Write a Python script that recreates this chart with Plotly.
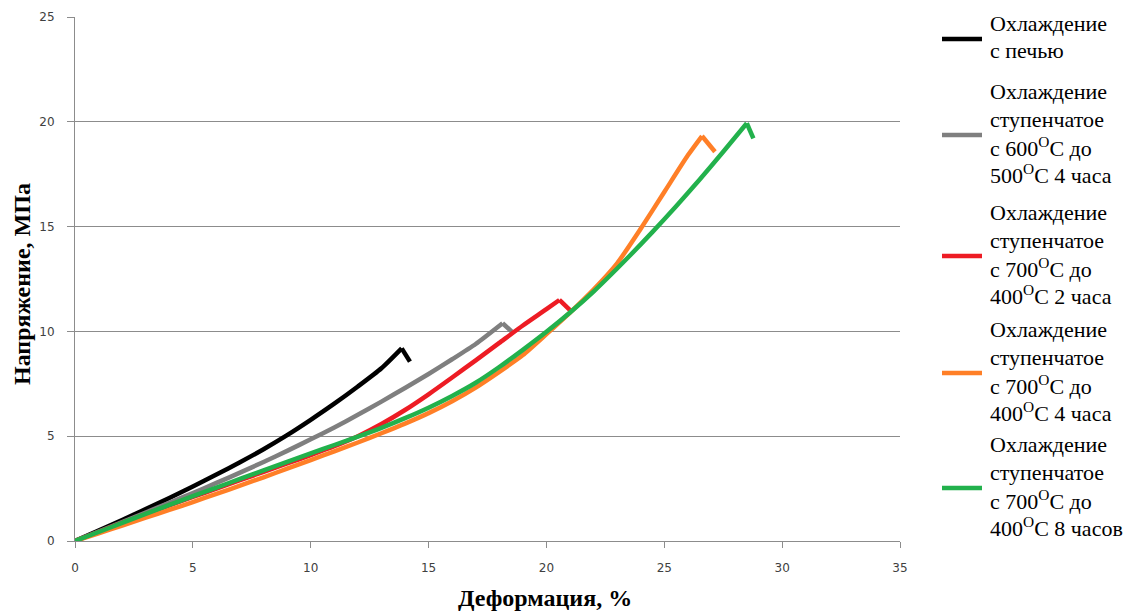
import plotly.graph_objects as go

# Strain, % and stress, MPa for each cooling regime
furnace_x = [0, 1, 2, 3, 4, 5, 6, 7, 8, 9, 10, 11, 12, 13, 13.86, 14.21]
furnace_y = [0, 0.5, 1.0, 1.52, 2.05, 2.6, 3.17, 3.76, 4.38, 5.05, 5.78, 6.55, 7.37, 8.24, 9.19, 8.56]

step600_x = [0, 1, 2, 3, 4, 5, 6, 7, 8, 9, 10, 11, 12, 13, 14, 15, 16, 17, 18.14, 18.53]
step600_y = [0, 0.45, 0.9, 1.36, 1.82, 2.29, 2.77, 3.26, 3.77, 4.3, 4.85, 5.42, 6.02, 6.65, 7.3, 7.97, 8.67, 9.4, 10.39, 9.99]

step700_2h_x = [0, 1, 2, 3, 4, 5, 6, 7, 8, 9, 10, 11, 12, 13, 14, 15, 16, 17, 18, 19, 20, 20.55, 21.0]
step700_2h_y = [0, 0.43, 0.86, 1.28, 1.7, 2.1, 2.5, 2.9, 3.3, 3.7, 4.1, 4.52, 5.0, 5.58, 6.25, 7.0, 7.8, 8.62, 9.45, 10.28, 11.06, 11.5, 11.02]

step700_4h_x = [0, 1, 2, 3, 4, 5, 6, 7, 8, 9, 10, 11, 12, 13, 14, 15, 16, 17, 18, 19, 20, 21, 22, 23, 24, 25, 26, 26.6, 27.15]
step700_4h_y = [0, 0.37, 0.74, 1.11, 1.48, 1.86, 2.25, 2.64, 3.04, 3.45, 3.86, 4.28, 4.7, 5.14, 5.6, 6.1, 6.67, 7.32, 8.07, 8.87, 9.87, 10.9, 12.0, 13.25, 14.9, 16.65, 18.4, 19.32, 18.57]

step700_8h_x = [0, 1, 2, 3, 4, 5, 6, 7, 8, 9, 10, 11, 12, 13, 14, 15, 16, 17, 18, 19, 20, 21, 22, 23, 24, 25, 26, 27, 28, 28.5, 28.78]
step700_8h_y = [0, 0.43, 0.86, 1.29, 1.72, 2.14, 2.55, 2.96, 3.37, 3.78, 4.18, 4.58, 4.98, 5.4, 5.86, 6.36, 6.92, 7.55, 8.3, 9.12, 9.98, 10.9, 11.9, 13.0, 14.15, 15.35, 16.6, 17.9, 19.25, 19.93, 19.21]

series_labels = [
    ["Охлаждение", "с печью"],
    ["Охлаждение", "ступенчатое", "с 600<sup>O</sup>C до", "500<sup>O</sup>C 4 часа"],
    ["Охлаждение", "ступенчатое", "с 700<sup>O</sup>C до", "400<sup>O</sup>C 2 часа"],
    ["Охлаждение", "ступенчатое", "с 700<sup>O</sup>C до", "400<sup>O</sup>C 4 часа"],
    ["Охлаждение", "ступенчатое", "с 700<sup>O</sup>C до", "400<sup>O</sup>C 8 часов"],
]
series_colors = ["#000000", "#7f7f7f", "#ed1c24", "#ff7f27", "#22b14c"]

x_title = "Деформация, %"
y_title = "Напряжение, МПа"

W, H = 1142, 612
L, R, T, B = 75, 242, 17, 71
PW, PH = W - L - R, H - T - B

serif = "Liberation Serif, Times New Roman, serif"

series = [
    (furnace_x, furnace_y),
    (step600_x, step600_y),
    (step700_2h_x, step700_2h_y),
    (step700_4h_x, step700_4h_y),
    (step700_8h_x, step700_8h_y),
]

fig = go.Figure()
for (xs, ys), lab, col in zip(series, series_labels, series_colors):
    name = " ".join(lab)
    # loading branch up to the peak (smoothed), then the drop after failure
    fig.add_trace(go.Scatter(
        x=xs[:-1], y=ys[:-1], mode="lines", name=name,
        line=dict(color=col, width=4.5, shape="spline", smoothing=0.6),
        showlegend=False,
    ))
    fig.add_trace(go.Scatter(
        x=xs[-2:], y=ys[-2:], mode="lines", name=name,
        line=dict(color=col, width=4.5), showlegend=False,
    ))

axis_gray = "#8c8c8c"
tick_font = dict(family="DejaVu Sans", size=12, color="#404040")

fig.update_xaxes(
    range=[0, 35], tickvals=[0, 5, 10, 15, 20, 25, 30, 35],
    showgrid=False, zeroline=False,
    showline=True, linecolor=axis_gray, linewidth=1,
    ticks="outside", ticklen=6, tickcolor=axis_gray, tickwidth=1,
    ticklabelstandoff=10, tickfont=tick_font, automargin=False,
)
fig.update_yaxes(
    range=[0, 25], tickvals=[0, 5, 10, 15, 20, 25],
    showgrid=True, gridcolor=axis_gray, gridwidth=1, zeroline=False,
    showline=True, linecolor=axis_gray, linewidth=1,
    ticks="outside", ticklen=7, tickcolor=axis_gray, tickwidth=1,
    ticklabelstandoff=10, tickfont=tick_font, automargin=False,
)


def px_to_paper(px, py):
    return (px - L) / PW, (T + PH - py) / PH


annotations = []
shapes = []

# axis titles
ax, ay = px_to_paper(545, 598)
annotations.append(dict(
    x=ax, y=ay, xref="paper", yref="paper", text=f"<b>{x_title}</b>",
    showarrow=False, xanchor="center", yanchor="middle",
    font=dict(family=serif, size=24, color="#000000"),
))
ax, ay = px_to_paper(22, 284)
annotations.append(dict(
    x=ax, y=ay, xref="paper", yref="paper", text=f"<b>{y_title}</b>",
    showarrow=False, xanchor="center", yanchor="middle", textangle=-90,
    font=dict(family=serif, size=24, color="#000000"),
))

# legend drawn at the right of the plot
key_centers = [39, 135, 256, 373, 488]
line_pitch = 27.5
for lab, col, cy in zip(series_labels, series_colors, key_centers):
    x0, y0 = px_to_paper(942, cy)
    x1, _ = px_to_paper(982, cy)
    shapes.append(dict(
        type="line", xref="paper", yref="paper", x0=x0, x1=x1, y0=y0, y1=y0,
        line=dict(color=col, width=4.5),
    ))
    n = len(lab)
    first = cy - 2 - (n - 1) * line_pitch / 2
    for i, txt in enumerate(lab):
        tx, ty = px_to_paper(988, first + i * line_pitch)
        annotations.append(dict(
            x=tx, y=ty, xref="paper", yref="paper", text=txt,
            showarrow=False, xanchor="left", yanchor="middle",
            font=dict(family=serif, size=22, color="#000000"),
        ))

fig.update_layout(
    width=W, height=H,
    margin=dict(l=L, r=R, t=T, b=B, pad=0),
    paper_bgcolor="#ffffff", plot_bgcolor="#ffffff",
    annotations=annotations, shapes=shapes,
    showlegend=False,
)

fig.write_html("out.html")
